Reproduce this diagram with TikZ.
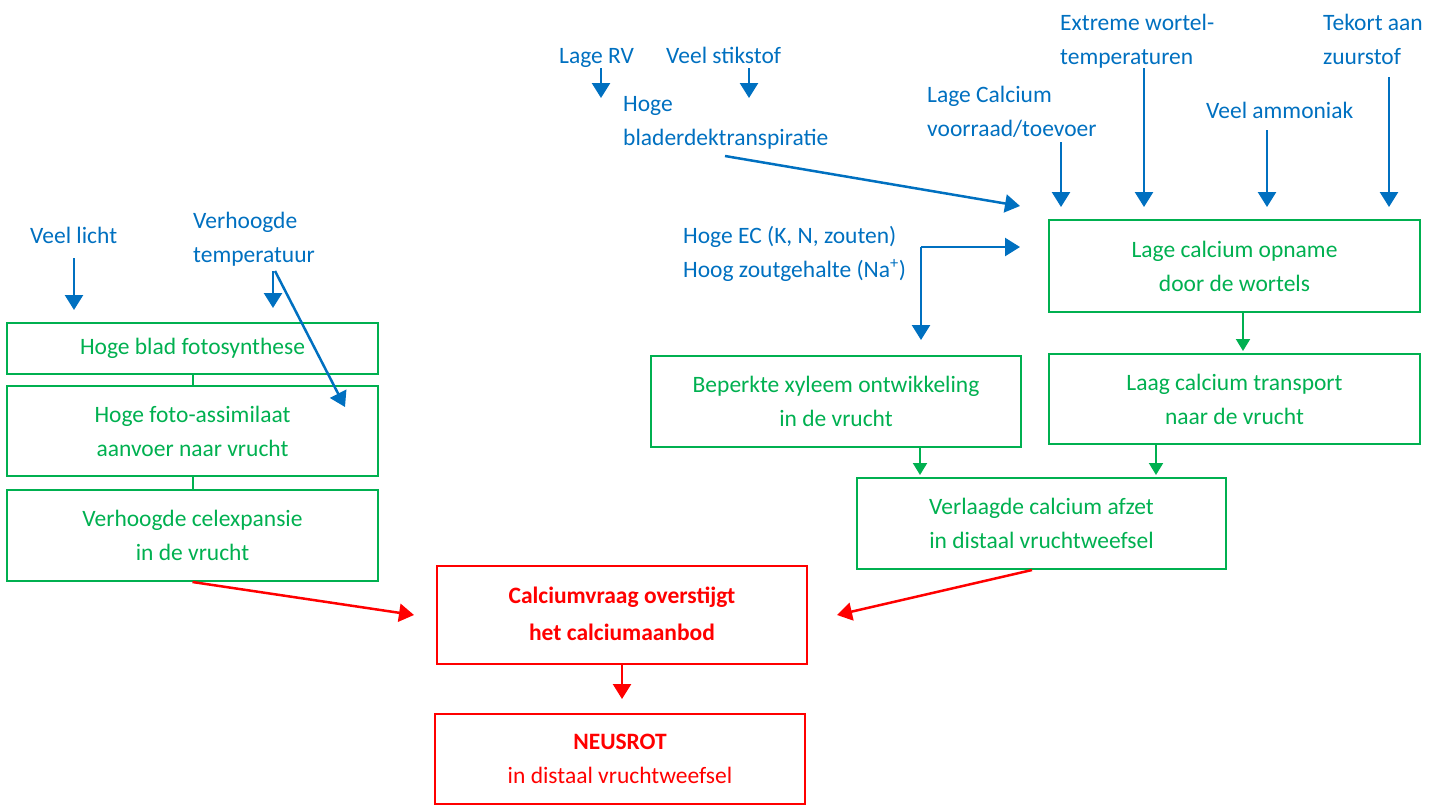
\documentclass[tikz,border=0pt]{standalone}
\usepackage{fontspec}
\setmainfont{Carlito}
\usetikzlibrary{arrows.meta,calc}
\definecolor{cblue}{HTML}{0070C0}
\definecolor{cgreen}{HTML}{00B050}
\definecolor{cred}{HTML}{FF0000}
\begin{document}
\begin{tikzpicture}[x=1pt,y=-1pt,
 every node/.style={font=\fontsize{23.5}{34}\selectfont},
 gbox/.style={draw=cgreen, line width=2pt, text=cgreen, align=center, inner sep=0pt},
 rbox/.style={draw=cred, line width=2pt, text=cred, align=center, inner sep=0pt},
 blab/.style={text=cblue, align=left, anchor=west, inner sep=0pt},
 bsingle/.style={text=cblue, anchor=base west, inner sep=0pt},
 barrow/.style={draw=cblue, line width=2.5pt, -{Triangle[length=15pt,width=18pt]}},
 garrow/.style={draw=cgreen, line width=2pt, -{Triangle[length=12pt,width=14pt]}},
 rarrow/.style={draw=cred, line width=2.5pt, -{Triangle[length=15pt,width=18pt]}},
 gline/.style={draw=cgreen, line width=2pt},
]
\useasboundingbox (0,0) rectangle (1431,804);

% green boxes, left column
\node[gbox, minimum width=371pt, minimum height=51pt] (b1) at (192.5,348.5) {Hoge blad fotosynthese};
\node[gbox, minimum width=371pt, minimum height=90pt] (b2) at (192.5,431) {Hoge foto-assimilaat\\aanvoer naar vrucht};
\node[gbox, minimum width=371pt, minimum height=91pt] (b3) at (192.5,535.5) {Verhoogde celexpansie\\in de vrucht};

% green boxes, right
\node[gbox, minimum width=371pt, minimum height=92pt] (opname) at (1234.5,266) {Lage calcium opname\\door de wortels};
\node[gbox, minimum width=370pt, minimum height=91pt] (xyleem) at (836,401.5) {Beperkte xyleem ontwikkeling\\in de vrucht};
\node[gbox, minimum width=371pt, minimum height=90pt] (transport) at (1234.5,399) {Laag calcium transport\\naar de vrucht};
\node[gbox, minimum width=369pt, minimum height=91pt] (afzet) at (1041.5,523.5) {Verlaagde calcium afzet\\in distaal vruchtweefsel};

% red boxes
\node[rbox, minimum width=370pt, minimum height=98pt, font=\fontsize{23.5}{37}\selectfont\bfseries] (vraag) at (622,615) {\raisebox{3pt}{Calciumvraag overstijgt}\\\raisebox{3pt}{het calciumaanbod}};
\node[rbox, minimum width=370pt, minimum height=90pt] (neus) at (620,759) {\textbf{NEUSROT}\\in distaal vruchtweefsel};

% blue labels
\node[bsingle] (licht) at (30,243) {Veel licht};
\node[blab] (temp) at (193,239) {Verhoogde\\temperatuur};
\node[bsingle] (rv) at (559,63) {Lage RV};
\node[bsingle] (stik) at (666,63) {Veel stikstof};
\node[blab] (transp) at (623,123) {Hoge\\bladerdektranspiratie};
\node[blab] (voorraad) at (927,111.5) {Lage Calcium\\voorraad/toevoer};
\node[blab] (wortel) at (1060,41) {Extreme wortel-\\temperaturen};
\node[bsingle] (ammo) at (1206,118) {Veel ammoniak};
\node[blab] (zuur) at (1323,39) {Tekort aan\\zuurstof};
\node[blab] (ec) at (683,254) {Hoge EC (K, N, zouten)\\Hoog zoutgehalte (Na\textsuperscript{+})};

% coordinates for blue arrows
\coordinate (lichtA) at (74,258);   \coordinate (lichtB) at (74,310);
\coordinate (tempA) at (273,271);   \coordinate (tempB) at (273,308);
\coordinate (tempC) at (275,271);   \coordinate (tempD) at (345,407);
\coordinate (rvA) at (601,68);      \coordinate (rvB) at (601,98);
\coordinate (stikA) at (749,68);    \coordinate (stikB) at (749,98);
\coordinate (transA) at (725,156);  \coordinate (transB) at (1020,206);
\coordinate (voorA) at (1061,142);  \coordinate (voorB) at (1061,207);
\coordinate (wortA) at (1144,68);   \coordinate (wortB) at (1144,207);
\coordinate (ammoA) at (1267,130);  \coordinate (ammoB) at (1267,207);
\coordinate (zuurA) at (1389,77);   \coordinate (zuurB) at (1389,207);
\coordinate (ecC) at (921,247);     \coordinate (ecR) at (1020,247);  \coordinate (ecD) at (921,340);
\coordinate (x920) at (920,0);
\coordinate (x1156) at (1156,0);

\draw[barrow] (lichtA) -- (lichtB);
\draw[barrow] (tempA) -- (tempB);
\draw[barrow] (tempC) -- (tempD);
\draw[barrow] (rvA) -- (rvB);
\draw[barrow] (stikA) -- (stikB);
\draw[barrow] (transA) -- (transB);
\draw[barrow] (voorA) -- (voorB);
\draw[barrow] (wortA) -- (wortB);
\draw[barrow] (ammoA) -- (ammoB);
\draw[barrow] (zuurA) -- (zuurB);
\draw[barrow] (ecC) -- (ecR);
\draw[barrow] (ecC) -- (ecD);

% green connectors
\draw[gline] (b1) -- (b2);
\draw[gline] (b2) -- (b3);
\draw[garrow] ([xshift=8.5pt]opname.south) -- ([xshift=8.5pt,yshift=2pt]transport.north);
\draw[garrow] (xyleem.south -| x920) -- ([yshift=2pt]afzet.north -| x920);
\draw[garrow] (transport.south -| x1156) -- ([yshift=2pt]afzet.north -| x1156);

% red connectors
\coordinate (nt) at (vraag.south |- neus.north);
\draw[rarrow] (b3.south) -- ([xshift=-22pt]vraag.west);
\draw[rarrow] ([xshift=-9.5pt]afzet.south) -- ([xshift=29pt]vraag.east);
\draw[rarrow] (vraag.south) -- ([yshift=14pt]nt);
\end{tikzpicture}
\end{document}
